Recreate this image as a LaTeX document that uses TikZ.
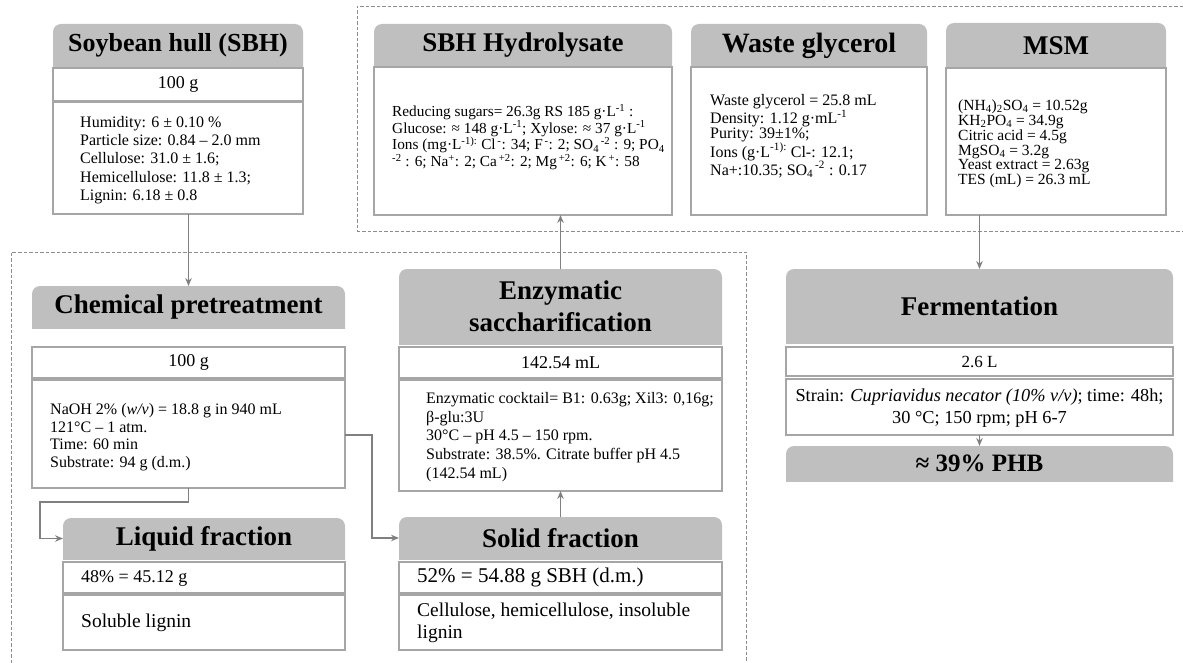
\documentclass[tikz,border=0pt]{standalone}
\usepackage{fontspec}
\setmainfont{Liberation Serif}
\usetikzlibrary{arrows.meta}
\definecolor{hdrgray}{HTML}{BFBFBF}
\definecolor{boxline}{HTML}{A6A6A6}
\definecolor{arrgray}{HTML}{808080}
\definecolor{dashgray}{HTML}{8C8C8C}
\tikzset{
  x=1pt,y=-1pt,
  wbox/.style={draw=boxline,line width=1.2pt,fill=white,inner sep=0pt,outer sep=0pt},
  hdrtext/.style={inner sep=0pt,outer sep=0pt,align=center,font=\bfseries\fontsize{27}{32}\selectfont},
  valtext/.style={inner sep=0pt,font=\fontsize{18}{20}\selectfont},
  bodytext/.style={inner sep=0pt,align=left,anchor=west},
  arr/.style={draw=arrgray,line width=1.2pt,-{Stealth[length=8pt,width=6.5pt]}},
  dashbox/.style={draw=dashgray,line width=0.9pt,dash pattern=on 3.5pt off 2pt},
}
\newcommand\hdrbox[7][]{%
  \begin{scope}
    \clip ({#3-3},{#4-3}) rectangle ({#5+3},{#6});
    \fill[hdrgray,rounded corners=8pt] (#3,#4) rectangle (#5,{#6+12});
  \end{scope}
  \node[hdrtext,minimum width={(#5-#3)*1pt},minimum height={(#6-#4)*1pt},#1] (#2) at ({(#3+#5)/2},{(#4+#6)/2}) {#7};}
\newcommand\whitebox[5]{%
  \node[wbox,minimum width={(#4-#2)*1pt},minimum height={(#5-#3)*1pt}] (#1) at ({(#2+#4)/2},{(#3+#5)/2}) {};}
\newcommand\supr[1]{\textsuperscript{#1}}
\newcommand\subs[1]{\textsubscript{#1}}
\newcommand\gL{g·L}
\begin{document}
\begin{tikzpicture}
\useasboundingbox (0,0) rectangle (1183,663);
% dashed groups
\draw[dashbox] (1183,6) -- (357,6) -- (357,231) -- (1183,231);
\draw[dashbox] (11,663) -- (11,252) -- (746,252) -- (746,663);

% Soybean hull
\hdrbox[font=\bfseries\fontsize{26}{30}\selectfont]{sbhhead}{53}{24}{303}{67}{Soybean hull (SBH)}
\whitebox{sbhval}{53}{68}{303}{101}
\node[valtext] (sbhvalt) at (sbhval) {100 g};
\whitebox{sbhbody}{53}{102}{303}{214}
\node[bodytext,font=\fontsize{16}{18.3}\selectfont] (sbhtext) at (80,160) {Humidity: 6 ± 0.10 \%\\Particle size: 0.84 – 2.0 mm\\Cellulose: 31.0 ± 1.6;\\Hemicellulose: 11.8 ± 1.3;\\Lignin: 6.18 ± 0.8};

% SBH Hydrolysate
\hdrbox{hydhead}{374}{24}{672}{67}{SBH Hydrolysate}
\whitebox{hydbody}{374}{67}{672}{215}
\node[bodytext,font=\fontsize{15.3}{12.4}\selectfont] (hydtext) at (392,137) {Reducing sugars= 26.3g RS 185 \gL\supr{-1} :\\Glucose: ≈ 148 \gL\supr{-1}; Xylose: ≈ 37 \gL\supr{-1}\\Ions (mg·L\supr{-1):} Cl\supr{\,-}: 34; F\supr{\,-}: 2; SO\subs{4}\supr{\,-2} : 9; PO\subs{4}\\\supr{-2} : 6; Na\supr{+}: 2; Ca\supr{\,+2}: 2; Mg\supr{\,+2}: 6; K\supr{\,+}: 58};

% Waste glycerol
\hdrbox[font=\bfseries\fontsize{28}{32}\selectfont]{wghead}{691}{24}{927}{67}{Waste glycerol}
\whitebox{wgbody}{691}{67}{927}{215}
\node[bodytext,font=\fontsize{16}{13.2}\selectfont] (wgtext) at (710,136) {Waste glycerol = 25.8 mL\\Density: 1.12 g·mL\supr{-1}\\Purity: 39±1\%;\\Ions (\gL\supr{-1):} Cl-: 12.1;\\Na+:10.35; SO\subs{4}\supr{\,-2} : 0.17};

% MSM
\hdrbox{msmhead}{946}{23}{1166}{68}{MSM}
\whitebox{msmbody}{946}{68}{1166}{215}
\node[bodytext,font=\fontsize{15.5}{13.4}\selectfont] (msmtext) at (958,144) {(NH\subs{4})\subs{2}SO\subs{4} = 10.52g\\KH\subs{2}PO\subs{4} = 34.9g\\Citric acid = 4.5g\\MgSO\subs{4} = 3.2g\\Yeast extract = 2.63g\\TES (mL) = 26.3 mL};

% Chemical pretreatment
\hdrbox{chemhead}{32}{286}{345}{328}{Chemical pretreatment}
\whitebox{chemval}{32}{347}{345}{378}
\node[valtext] (chemvalt) at (chemval) {100 g};
\whitebox{chembody}{32}{380}{345}{488}
\node[bodytext,font=\fontsize{16}{17.5}\selectfont] (chemtext) at (50,437) {NaOH 2\% (\textit{w/v}) = 18.8 g in 940 mL\\121°C – 1 atm.\\Time: 60 min\\Substrate: 94 g (d.m.)};

% Enzymatic saccharification
\hdrbox{enzhead}{399}{269}{722}{344}{Enzymatic\\saccharification}
\whitebox{enzval}{399}{347}{722}{378}
\node[valtext] (enzvalt) at (enzval) {142.54 mL};
\whitebox{enzbody}{399}{380}{722}{491}
\node[bodytext,font=\fontsize{16}{18.7}\selectfont] (enztext) at (426,437) {Enzymatic cocktail= B1: 0.63g; Xil3: 0,16g;\\β-glu:3U\\30°C – pH 4.5 – 150 rpm.\\Substrate: 38.5\%. Citrate buffer pH 4.5\\(142.54 mL)};

% Liquid fraction
\hdrbox{liqhead}{63}{518}{345}{559}{Liquid fraction}
\whitebox{liqval}{63}{562}{345}{593}
\node[valtext,anchor=west] (liqvalt) at (81,578) {48\% = 45.12 g};
\whitebox{liqbody}{63}{595}{345}{650}
\node[valtext,anchor=west,font=\fontsize{19.5}{22}\selectfont] (liqtext) at (81,623) {Soluble lignin};

% Solid fraction
\hdrbox{solhead}{399}{517}{722}{559}{Solid fraction}
\whitebox{solval}{399}{562}{722}{593}
\node[valtext,anchor=west,font=\fontsize{21}{22}\selectfont] (solvalt) at (417,577) {52\% = 54.88 g SBH (d.m.)};
\whitebox{solbody}{399}{595}{722}{650}
\node[bodytext,font=\fontsize{19.5}{21.5}\selectfont] (soltext) at (417,623) {Cellulose, hemicellulose, insoluble\\lignin};

% Fermentation
\hdrbox{fermhead}{786}{269}{1173}{343}{Fermentation}
\whitebox{fermval}{786}{347}{1173}{376}
\node[valtext,font=\fontsize{17}{19}\selectfont] (fermvalt) at (fermval) {2.6 L};
\whitebox{fermbody}{786}{379}{1173}{435}
\node[inner sep=0pt,align=center,font=\fontsize{18.3}{21.3}\selectfont] (fermtext) at (979.5,408) {Strain: \textit{Cupriavidus necator (10\% v/v)}; time: 48h;\\30 °C; 150 rpm; pH 6-7};

% PHB
\hdrbox[font=\bfseries\fontsize{25}{30}\selectfont]{phbhead}{786}{446}{1173}{481}{≈ 39\% PHB}

% connectors
\draw[arr] (chemhead.north |- sbhbody.south) -- (chemhead.north);
\coordinate (c1) at (372,435);
\draw[arr] (chembody.east |- c1) -- (c1) |- (solhead.west);
\coordinate (c2) at (40,502);
\draw[arr] (chembody.south) -- (chembody.south |- c2) -- (c2) |- (liqhead.west);
\draw[arr] (solhead.north) -- (enzbody.south);
\draw[arr] (enzhead.north) -- (enzhead.north |- hydbody.south);
\draw[arr] (fermhead.north |- msmbody.south) -- (fermhead.north);
\draw[arr] (fermbody.south) -- (phbhead.north);
\end{tikzpicture}
\end{document}
